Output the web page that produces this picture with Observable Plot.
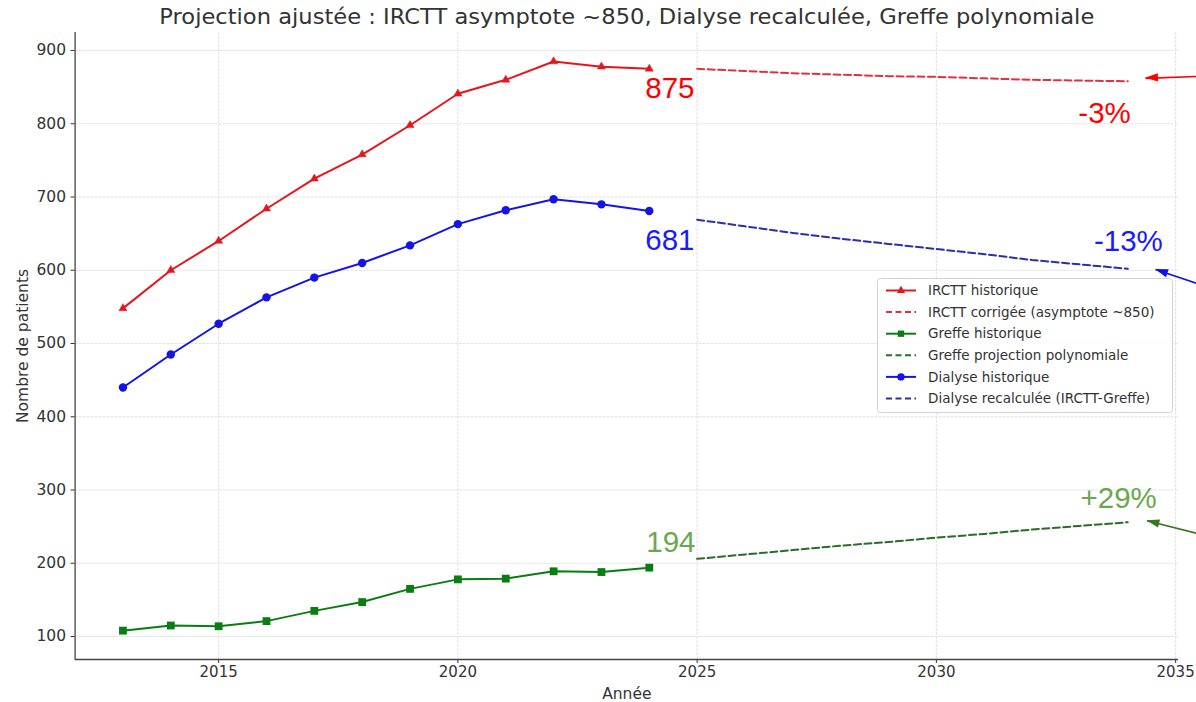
<!DOCTYPE html>
<html>
<head>
<meta charset="utf-8">
<script src="https://cdn.jsdelivr.net/npm/d3@7"></script>
<script src="https://cdn.jsdelivr.net/npm/@observablehq/plot@0.6"></script>
<style>
  html, body { margin: 0; padding: 0; background: #fff; }
  #chart { position: relative; width: 1196px; height: 702px; overflow: hidden; }
</style>
</head>
<body>
<div id="chart"></div>
<script>
// ---------- data ----------
const title = "Projection ajustée : IRCTT asymptote ~850, Dialyse recalculée, Greffe polynomiale";
const xLabel = "Année";
const yLabel = "Nombre de patients";

const histYears = [2013, 2014, 2015, 2016, 2017, 2018, 2019, 2020, 2021, 2022, 2023, 2024];
const irctHist   = [548, 600, 640, 684, 725, 758, 798, 841, 860, 885, 878, 875];
const greffeHist = [108, 115, 114, 121, 135, 147, 165, 178, 179, 189, 188, 194];
const dialyseHist= [440, 485, 527, 563, 590, 610, 634, 663, 682, 697, 690, 681];

const projYears  = [2025, 2026, 2027, 2028, 2029, 2030, 2031, 2032, 2033, 2034];
const irctProj   = [875, 872, 869, 867, 865, 864, 862, 860, 859, 858];
const greffeProj = [206, 212, 218, 224, 229, 235, 240, 246, 251, 256];
const dialyseProj= [669, 660, 651, 643, 636, 629, 622, 614, 608, 602];

const xTicks = [2015, 2020, 2025, 2030, 2035];
const yTicks = [100, 200, 300, 400, 500, 600, 700, 800, 900];

const legendLabels = [
  "IRCTT historique",
  "IRCTT corrigée (asymptote ~850)",
  "Greffe historique",
  "Greffe projection polynomiale",
  "Dialyse historique",
  "Dialyse recalculée (IRCTT-Greffe)"
];

// value labels at last historical point
const lastLabels = [
  {series: "irct", year: 2024, value: 875, text: "875"},
  {series: "dialyse", year: 2024, value: 681, text: "681"},
  {series: "greffe", year: 2024, value: 194, text: "194"}
];
// change labels at end of projection
const changeLabels = [
  {series: "irct", year: 2034, value: 858, text: "-3%"},
  {series: "dialyse", year: 2034, value: 602, text: "-13%"},
  {series: "greffe", year: 2034, value: 256, text: "+29%"}
];
// arrows from outside pointing to projection ends (data units)
const arrows = [
  {series: "irct",    x1: 2036.4, y1: 867, x2: 2034.37, y2: 862},
  {series: "dialyse", x1: 2036.4, y1: 561, x2: 2034.58, y2: 601},
  {series: "greffe",  x1: 2036.4, y1: 225, x2: 2034.4,  y2: 258}
];

// ---------- styles ----------
const C = {
  irct: "#e6151c", irctDash: "#dd3340",
  greffe: "#0a7d12", greffeDash: "#2b6b2b",
  dialyse: "#1414e6", dialyseDash: "#2e2eaa"
};
const annotColor = {irct: "#ff0000", dialyse: "#1a1aff", greffe: "#6aa84f"};
const arrowColor = {irct: "#ff0000", dialyse: "#1010e8", greffe: "#38761d"};
const textColor = "#333";
const FONT = "DejaVu Sans, sans-serif";
const ANNOT_FONT = "Liberation Sans, Arial, sans-serif";

const hist = (vals) => histYears.map((y, i) => ({x: y, y: vals[i]}));
const proj = (vals) => projYears.map((y, i) => ({x: y, y: vals[i]}));

const lastOffsets = {irct: [-4, 29], dialyse: [-4, 39], greffe: [-3, -16]};
const changeOffsets = {irct: [3, 42], dialyse: [35, -18], greffe: [29, -14]};

const dash = "7,3.5";
const gridStyle = {stroke: "#e2e2e2", strokeOpacity: 1, strokeDasharray: "3,1"};

const plot = Plot.plot({
  width: 1196,
  height: 702,
  marginLeft: 74.6,
  marginRight: 18,
  marginTop: 32,
  marginBottom: 43,
  style: {fontFamily: FONT, background: "transparent", overflow: "visible"},
  x: {domain: [2012.0, 2035.06], label: null},
  y: {domain: [68.6, 924.6], label: null},
  marks: [
    Plot.gridX(xTicks, gridStyle),
    Plot.gridY(yTicks, gridStyle),
    Plot.axisX(xTicks, {tickSize: 4, tickPadding: 3, fontSize: 15, color: textColor, tickFormat: d => String(d), label: null}),
    Plot.axisY(yTicks, {tickSize: 4, tickPadding: 5, fontSize: 15.5, color: textColor, label: null}),
    Plot.ruleX([2012.0], {stroke: "#444", strokeWidth: 1.3}),
    Plot.ruleY([68.6], {stroke: "#444", strokeWidth: 1.3}),

    // projections (dashed)
    Plot.line(proj(irctProj), {x: "x", y: "y", stroke: C.irctDash, strokeWidth: 2, strokeDasharray: dash}),
    Plot.line(proj(greffeProj), {x: "x", y: "y", stroke: C.greffeDash, strokeWidth: 2, strokeDasharray: dash}),
    Plot.line(proj(dialyseProj), {x: "x", y: "y", stroke: C.dialyseDash, strokeWidth: 2, strokeDasharray: dash}),

    // historical
    Plot.line(hist(irctHist), {x: "x", y: "y", stroke: C.irct, strokeWidth: 2}),
    Plot.dot(hist(irctHist), {x: "x", y: "y", symbol: "triangle", r: 3, fill: C.irct, stroke: C.irct, strokeWidth: 0.5}),
    Plot.line(hist(greffeHist), {x: "x", y: "y", stroke: C.greffe, strokeWidth: 2}),
    Plot.dot(hist(greffeHist), {x: "x", y: "y", symbol: "square", r: 4.4, fill: C.greffe, stroke: "none"}),
    Plot.line(hist(dialyseHist), {x: "x", y: "y", stroke: C.dialyse, strokeWidth: 2}),
    Plot.dot(hist(dialyseHist), {x: "x", y: "y", symbol: "circle", r: 4.2, fill: C.dialyse, stroke: "none"}),

    // annotations
    ...lastLabels.map(d => Plot.text([d], {
      x: "year", y: "value", text: "text", textAnchor: "start", lineAnchor: "bottom",
      dx: lastOffsets[d.series][0], dy: lastOffsets[d.series][1],
      fill: annotColor[d.series], fontSize: 29.5, fontFamily: ANNOT_FONT
    })),
    ...changeLabels.map(d => Plot.text([d], {
      x: "year", y: "value", text: "text", textAnchor: "end", lineAnchor: "bottom",
      dx: changeOffsets[d.series][0], dy: changeOffsets[d.series][1],
      fill: annotColor[d.series], fontSize: 29.5, fontFamily: ANNOT_FONT
    })),
    ...arrows.map(d => Plot.link([d], {
      x1: "x1", y1: "y1", x2: "x2", y2: "y2", stroke: arrowColor[d.series], strokeWidth: 1.6
    })),

    // title & axis labels
    Plot.text([title], {frameAnchor: "top", lineAnchor: "bottom", dy: -9, fontSize: 20.5, fill: textColor, fontFamily: FONT, className: "ttl"}),
    Plot.text([xLabel], {frameAnchor: "bottom", lineAnchor: "bottom", dy: 39, fontSize: 15.5, fill: textColor, fontFamily: FONT}),
    Plot.text([yLabel], {frameAnchor: "left", rotate: -90, textAnchor: "middle", lineAnchor: "middle", dx: -52, fontSize: 15.5, fill: textColor, fontFamily: FONT})
  ]
});

document.getElementById("chart").appendChild(plot);
const svg = d3.select(plot);

// stretch title to the reference width
svg.selectAll("g.ttl text").attr("textLength", 935).attr("lengthAdjust", "spacingAndGlyphs");

// ---------- arrowheads (filled, using the plot's scales) ----------
const sx = plot.scale("x"), sy = plot.scale("y");
arrows.forEach(d => {
  const x1 = sx.apply(d.x1), y1 = sy.apply(d.y1), x2 = sx.apply(d.x2), y2 = sy.apply(d.y2);
  const ang = Math.atan2(y2 - y1, x2 - x1);
  const L = 13, W = 4.2;
  const bx = x2 - L * Math.cos(ang), by = y2 - L * Math.sin(ang);
  const px = -Math.sin(ang), py = Math.cos(ang);
  svg.append("polygon")
    .attr("points", `${x2},${y2} ${bx + W * px},${by + W * py} ${bx - W * px},${by - W * py}`)
    .attr("fill", arrowColor[d.series]);
});

// ---------- legend ----------
const lg = svg.append("g").attr("transform", "translate(877,278)").attr("text-anchor", "start");
lg.append("rect").attr("x", 0.5).attr("y", 0.5).attr("width", 295).attr("height", 134)
  .attr("rx", 3).attr("fill", "#fff").attr("fill-opacity", 0.85).attr("stroke", "#d3d3d3");
const legendStyles = [
  {color: C.irct, dashed: false, symbol: d3.symbolTriangle, size: 30},
  {color: C.irctDash, dashed: true},
  {color: C.greffe, dashed: false, symbol: d3.symbolSquare, size: 40},
  {color: C.greffeDash, dashed: true},
  {color: C.dialyse, dashed: false, symbol: d3.symbolCircle, size: 42},
  {color: C.dialyseDash, dashed: true}
];
legendLabels.forEach((lab, i) => {
  const st = legendStyles[i];
  const yy = 12.5 + i * 21.6;
  lg.append("line").attr("x1", 9).attr("x2", 39).attr("y1", yy).attr("y2", yy)
    .attr("stroke", st.color).attr("stroke-width", 2)
    .attr("stroke-dasharray", st.dashed ? "6,3.5" : null);
  if (st.symbol) {
    lg.append("path").attr("d", d3.symbol(st.symbol, st.size)())
      .attr("transform", `translate(24,${yy})`).attr("fill", st.color);
  }
  lg.append("text").attr("x", 51).attr("y", yy).attr("dy", "0.35em")
    .attr("text-anchor", "start")
    .attr("font-family", FONT).attr("font-size", 13.5).attr("fill", textColor).text(lab);
});
</script>
</body>
</html>
